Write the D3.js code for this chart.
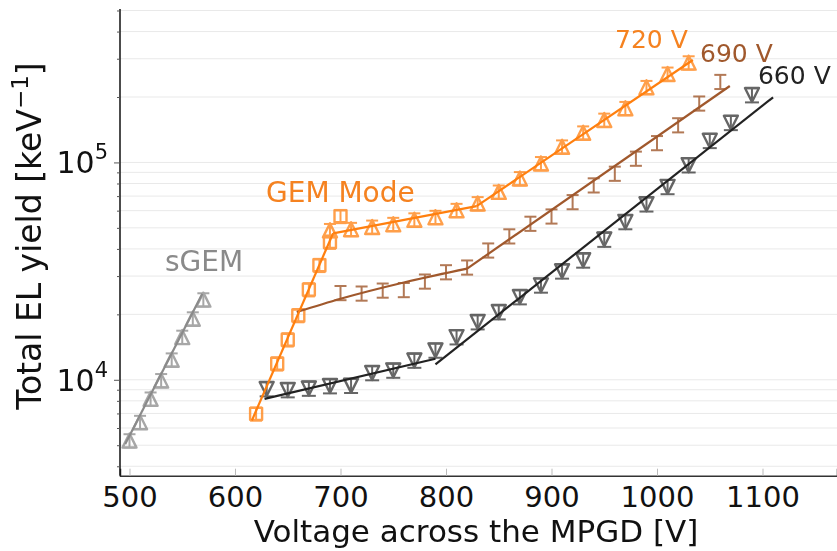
<!DOCTYPE html>
<html>
<head>
<meta charset="utf-8">
<script src="https://cdn.jsdelivr.net/npm/d3@7"></script>
<style>
  body { margin: 0; background: #fff; }
  svg { display: block; }
  text { font-family: "DejaVu Sans", sans-serif; }
</style>
</head>
<body>
<svg id="chart" width="837" height="551"></svg>
<script>
// ---- measured EL yield (keV^-1) vs voltage across the MPGD (V) ----
const sgemVolts = [500, 510, 520, 530, 540, 550, 560, 570];
const sgemYield = [5250, 6380, 8170, 9930, 12360, 15720, 19100, 23370];
const sgemErr   = [0.07, 0.07, 0.07, 0.07, 0.07, 0.07, 0.07, 0.07];

const gemVolts = [620, 640, 650, 660, 670, 680, 690, 700];
const gemYield = [6970, 11850, 15290, 19770, 26000, 33650, 43050, 56500];
const gemErr   = [0.07, 0.07, 0.07, 0.07, 0.07, 0.07, 0.07, 0.07];

const v720Volts = [690, 710, 730, 750, 770, 790, 810, 830, 850, 870, 890, 910, 930, 950, 970, 990, 1010, 1030];
const v720Yield = [48700, 49270, 50470, 51960, 54500, 55980, 60260, 64700, 73180, 84370, 98940, 118000, 136900, 156700, 177400, 221600, 255300, 287700];
const v720Err   = [0.07, 0.07, 0.07, 0.07, 0.07, 0.07, 0.07, 0.07, 0.07, 0.07, 0.07, 0.07, 0.07, 0.07, 0.07, 0.07, 0.07, 0.07];

const v690Volts = [700, 720, 740, 760, 780, 800, 820, 840, 860, 880, 900, 920, 940, 960, 980, 1000, 1020, 1040, 1060];
const v690Yield = [25120, 24990, 25790, 25930, 28380, 31320, 32930, 39440, 45800, 52350, 56550, 65830, 78610, 88940, 104300, 123000, 148600, 187100, 235200];
const v690Err   = [0.075, 0.075, 0.075, 0.075, 0.075, 0.075, 0.075, 0.075, 0.075, 0.075, 0.075, 0.075, 0.075, 0.075, 0.075, 0.075, 0.075, 0.075, 0.075];

const v660Volts = [630, 650, 670, 690, 710, 730, 750, 770, 790, 810, 830, 850, 870, 890, 910, 930, 950, 970, 990, 1010, 1030, 1050, 1070, 1090];
const v660Yield = [9070, 8974, 9120, 9360, 9400, 10750, 11040, 12270, 13650, 15720, 18430, 20490, 24030, 27200, 31560, 35450, 44190, 53240, 64240, 77200, 97180, 125800, 152200, 204200];
const v660Err   = [0.075, 0.075, 0.075, 0.075, 0.075, 0.075, 0.075, 0.075, 0.075, 0.075, 0.075, 0.075, 0.075, 0.075, 0.075, 0.075, 0.075, 0.075, 0.075, 0.075, 0.075, 0.075, 0.075, 0.075];

// ---- piecewise fits, [volts, yield] knots per segment ----
const sgemFit = [[[496, 5070], [569, 24900]]];
const v720Fit = [
  [[616, 6500], [693, 47200]],
  [[693, 47200], [829, 62900]],
  [[829, 62900], [1034, 296000]]
];
const v690Fit = [
  [[658.5, 20490], [700, 23600], [760, 28040], [820, 32470]],
  [[820, 32470], [1069, 224700]]
];
const v660Fit = [
  [[628, 8170], [790, 12500]],
  [[790, 11760], [1110, 199300]]
];

// ---- axis ticks and annotations ----
const xTicks = [500, 600, 700, 800, 900, 1000, 1100];
const yMajorTicks = [1e4, 1e5];
const yTickExponents = ["4", "5"];
const notes = [
  { text: "sGEM",     v: 533.6,  y: 31660,  color: "#8a8a8a", size: 28 },
  { text: "GEM Mode", v: 629.4,  y: 65830,  color: "#f58220", size: 28 },
  { text: "720 V",    v: 960.2,  y: 337300, color: "#f58220", size: 25 },
  { text: "690 V",    v: 1040.8, y: 290800, color: "#a0582c", size: 25 },
  { text: "660 V",    v: 1095.7, y: 229500, color: "#222222", size: 25 }
];

const svg = d3.select("#chart");
const plot = { left: 120, right: 837, top: 9, bottom: 475.7 };

const x = d3.scaleLinear().domain([491, 1170.6]).range([plot.left, plot.right]);
const y = d3.scaleLog().domain([3620, 508000]).range([plot.bottom, plot.top]);

// all log ticks (1..9 x 10^k) inside the domain
const allYTicks = [];
for (let k = 3; k <= 5; k++) for (let m = 1; m <= 9; m++) {
  const v = m * Math.pow(10, k);
  if (v >= y.domain()[0] && v <= y.domain()[1]) allYTicks.push(v);
}

// horizontal grid
svg.append("g").selectAll("line").data(allYTicks).join("line")
  .attr("x1", plot.left).attr("x2", plot.right)
  .attr("y1", d => y(d)).attr("y2", d => y(d))
  .attr("stroke", "#e9e9e9").attr("stroke-width", 1);

// ---- markers and error bars ----
function errorBars(g, volts, vals, errs, color, cap) {
  const grp = g.append("g").attr("stroke", color).attr("stroke-width", 2).attr("fill", "none");
  volts.forEach((v, i) => {
    const cx = x(v), lo = y(vals[i] * (1 - errs[i])), hi = y(vals[i] * (1 + errs[i]));
    grp.append("line").attr("x1", cx).attr("x2", cx).attr("y1", lo).attr("y2", hi);
    grp.append("line").attr("x1", cx - cap).attr("x2", cx + cap).attr("y1", lo).attr("y2", lo);
    grp.append("line").attr("x1", cx - cap).attr("x2", cx + cap).attr("y1", hi).attr("y2", hi);
  });
}
function markers(g, volts, vals, color, shape) {
  const s = 7;
  const paths = {
    up:   `M0,${-s}L${-s},${s}L${s},${s}Z`,
    down: `M0,${s}L${-s},${-s}L${s},${-s}Z`,
    square: `M${-6},${-6}H6V6H-6Z`
  };
  g.append("g").selectAll("path").data(volts).join("path")
    .attr("transform", (v, i) => `translate(${x(v)},${y(vals[i])})`)
    .attr("d", paths[shape])
    .attr("fill", "none").attr("stroke", color).attr("stroke-width", 2.4)
    .attr("stroke-linejoin", "round");
}
function fitLines(g, segs, color) {
  const line = d3.line().x(d => x(d[0])).y(d => y(d[1])).curve(d3.curveMonotoneX);
  g.selectAll(null).data(segs).join("path")
    .attr("d", line).attr("fill", "none")
    .attr("stroke", color).attr("stroke-width", 2.2);
}

const marks = svg.append("g");
const sg = marks.append("g").attr("opacity", 0.75);
errorBars(sg, sgemVolts, sgemYield, sgemErr, "#8a8a8a", 6);
markers(sg, sgemVolts, sgemYield, "#8a8a8a", "up");

const g660 = marks.append("g").attr("opacity", 0.75);
errorBars(g660, v660Volts, v660Yield, v660Err, "#333333", 7);
markers(g660, v660Volts, v660Yield, "#333333", "down");

const g690 = marks.append("g").attr("opacity", 0.8);
errorBars(g690, v690Volts, v690Yield, v690Err, "#a0582c", 6);

const g720 = marks.append("g").attr("opacity", 0.75);
errorBars(g720, gemVolts, gemYield, gemErr, "#ff7f0e", 6);
markers(g720, gemVolts, gemYield, "#ff7f0e", "square");
errorBars(g720, v720Volts, v720Yield, v720Err, "#ff7f0e", 6);
markers(g720, v720Volts, v720Yield, "#ff7f0e", "up");

const fits = svg.append("g");
fitLines(fits, sgemFit, "#8a8a8a");
fitLines(fits, v660Fit, "#222222");
fitLines(fits, v690Fit, "#a0582c");
fitLines(fits, v720Fit, "#ff7f0e");

// ---- axes ----
const xAxis = svg.append("g").attr("transform", `translate(0,${plot.bottom})`)
  .call(d3.axisBottom(x).tickValues(xTicks).tickSize(-7).tickPadding(11).tickFormat(d3.format("d")));
xAxis.select(".domain").attr("stroke", "#333").attr("stroke-width", 1.5);
xAxis.selectAll(".tick line").attr("stroke", "#bbb").attr("stroke-width", 1);
xAxis.selectAll(".tick text").attr("font-size", 29).attr("fill", "#111")
  .attr("font-family", "DejaVu Sans");

const yAxis = svg.append("g").attr("transform", `translate(${plot.left},0)`)
  .call(d3.axisLeft(y).tickValues(allYTicks).tickSize(3).tickFormat(""));
yAxis.select(".domain").attr("stroke", "#111").attr("stroke-width", 1.5).attr("d", `M0,${plot.bottom}V${plot.top}`);
yAxis.selectAll(".tick line").attr("stroke", "#555").attr("x2", d => yMajorTicks.includes(d) ? -6 : -3);

// power-of-ten labels
const yl = svg.append("g");
yMajorTicks.forEach((v, i) => {
  const t = yl.append("text").attr("x", 108).attr("y", y(v) + 11)
    .attr("text-anchor", "end").attr("font-size", 30).attr("fill", "#111");
  t.append("tspan").text("10");
  t.append("tspan").attr("dy", -14).attr("font-size", 21).text(yTickExponents[i]);
});

// axis titles
svg.append("text").attr("x", 476).attr("y", 542).attr("text-anchor", "middle")
  .attr("font-size", 31).attr("fill", "#111").text("Voltage across the MPGD [V]");

const yt = svg.append("text").attr("transform", "translate(41,236) rotate(-90)")
  .attr("text-anchor", "middle").attr("font-size", 33).attr("fill", "#111");
yt.append("tspan").text("Total EL yield [keV");
yt.append("tspan").attr("dy", -13).attr("font-size", 23).text("\u22121");
yt.append("tspan").attr("dy", 13).text("]");

// annotations
svg.append("g").selectAll("text").data(notes).join("text")
  .attr("x", d => x(d.v)).attr("y", d => y(d.y))
  .attr("font-size", d => d.size).attr("fill", d => d.color).text(d => d.text);
</script>
</body>
</html>
